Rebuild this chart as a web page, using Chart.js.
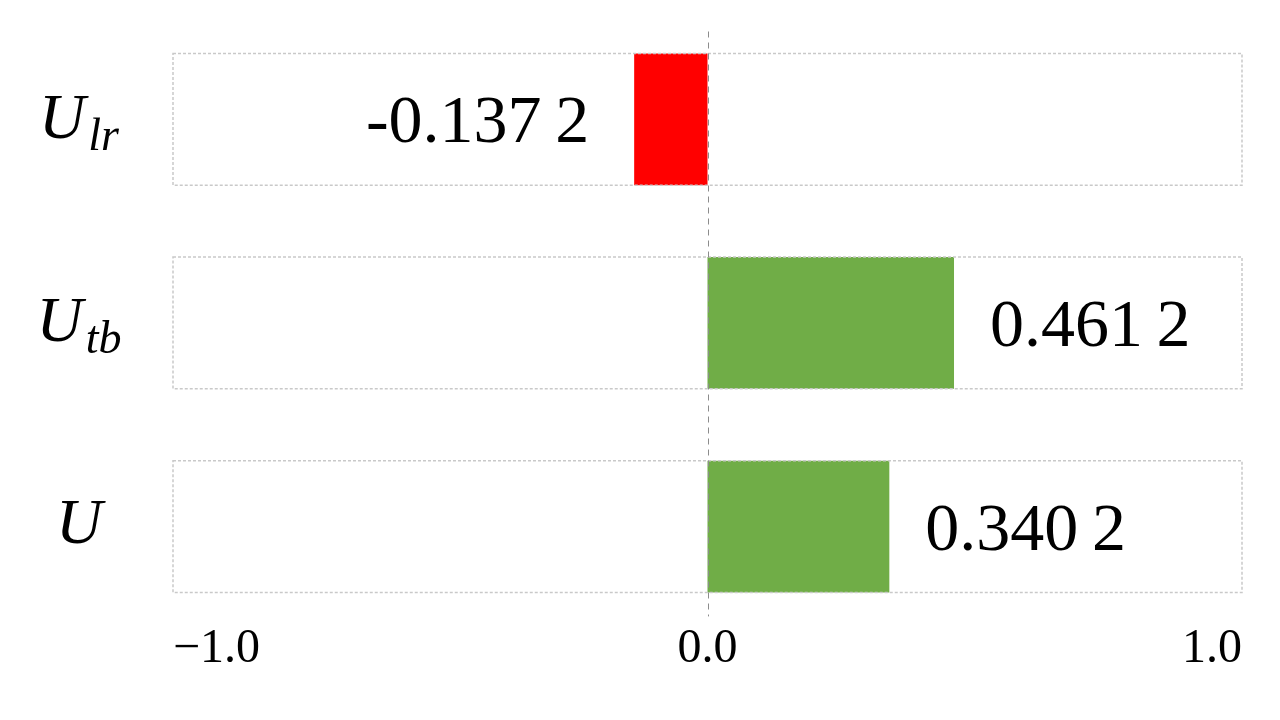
<!DOCTYPE html>
<html>
<head>
<meta charset="utf-8">
<script src="https://cdn.jsdelivr.net/npm/chart.js@4.4.1/dist/chart.umd.min.js"></script>
<style>
html,body{margin:0;padding:0;background:#fff;}
#wrap{width:1280px;height:720px;}
</style>
</head>
<body>
<div id="wrap"><canvas id="c" width="1280" height="720"></canvas></div>
<script>
// ---- data ----
const categories = ['Ulr', 'Utb', 'U'];
const mainLabels = ['U', 'U', 'U'];
const subLabels = ['lr', 'tb', ''];
const values = [-0.1372, 0.4612, 0.3402];
const valueTexts = ['-0.137\u20092', '0.461\u20092', '0.340\u20092'];
const xMin = -1, xMax = 1, xStep = 1;

const RED = '#FF0000', GREEN = '#70AD47';
const barColors = values.map(v => v < 0 ? RED : GREEN);

const SERIF = '"Liberation Serif", "Times New Roman", serif';

const decorPlugin = {
  id: 'decor',
  beforeDatasetsDraw(chart) {
    const ctx = chart.ctx;
    const xs = chart.scales.x;
    const meta = chart.getDatasetMeta(0);
    ctx.save();
    meta.data.forEach(el => {
      const top = el.y - el.height / 2, h = el.height;
      const l = xs.getPixelForValue(xMin), r = xs.getPixelForValue(xMax);
      ctx.fillStyle = '#ffffff';
      ctx.fillRect(l, top, r - l, h);
    });
    ctx.restore();
  },
  afterDatasetsDraw(chart) {
    const ctx = chart.ctx;
    const xs = chart.scales.x;
    const meta = chart.getDatasetMeta(0);
    const ca = chart.chartArea;
    ctx.save();
    // dotted boxes
    ctx.strokeStyle = '#c9c9c9';
    ctx.lineWidth = 1.5;
    ctx.setLineDash([3, 2]);
    meta.data.forEach(el => {
      const top = el.y - el.height / 2, h = el.height;
      const l = xs.getPixelForValue(xMin), r = xs.getPixelForValue(xMax);
      ctx.strokeRect(l, top, r - l, h);
    });
    // zero dashed line
    const x0 = Math.round(xs.getPixelForValue(0)) + 0.5;
    ctx.strokeStyle = '#8c8c8c';
    ctx.lineWidth = 1;
    ctx.setLineDash([6, 5]);
    ctx.beginPath();
    ctx.moveTo(x0, ca.top + 14);
    ctx.lineTo(x0, ca.bottom - 12);
    ctx.stroke();
    ctx.setLineDash([]);
    // value labels
    ctx.fillStyle = '#000';
    ctx.font = '68px ' + SERIF;
    ctx.textBaseline = 'alphabetic';
    meta.data.forEach((el, i) => {
      const v = values[i];
      const base = el.y + 23;
      if (v < 0) {
        ctx.textAlign = 'right';
        ctx.fillText(valueTexts[i], el.x - 45, base);
      } else {
        ctx.textAlign = 'left';
        ctx.fillText(valueTexts[i], el.x + 36, base);
      }
    });
    // category labels with subscripts
    const cx = 79;
    meta.data.forEach((el, i) => {
      ctx.font = 'italic 64px ' + SERIF;
      const wMain = ctx.measureText(mainLabels[i]).width;
      ctx.font = 'italic 46px ' + SERIF;
      const wSub = subLabels[i] ? ctx.measureText(subLabels[i]).width + 3 : 0;
      const left = cx - (wMain + wSub) / 2;
      ctx.textAlign = 'left';
      ctx.font = 'italic 64px ' + SERIF;
      ctx.fillText(mainLabels[i], left, el.y + (subLabels[i] ? 18.5 : 16));
      if (subLabels[i]) {
        ctx.font = 'italic 46px ' + SERIF;
        ctx.fillText(subLabels[i], left + wMain + 3, el.y + 30.5);
      }
    });
    ctx.restore();
  }
};

new Chart(document.getElementById('c'), {
  type: 'bar',
  data: {
    labels: categories,
    datasets: [{
      data: values,
      backgroundColor: barColors,
      borderWidth: 0,
      barPercentage: 0.647,
      categoryPercentage: 1.0
    }]
  },
  options: {
    indexAxis: 'y',
    responsive: false,
    devicePixelRatio: 1,
    animation: false,
    layout: { padding: { left: 173, right: 38, top: 17.5, bottom: 50 } },
    plugins: { legend: { display: false }, tooltip: { enabled: false } },
    scales: {
      y: { display: false },
      x: {
        min: xMin, max: xMax,
        grid: { display: false, drawTicks: false },
        border: { display: false },
        ticks: {
          stepSize: xStep,
          align: 'inner',
          padding: -8,
          color: '#000',
          font: { family: SERIF, size: 48 },
          callback: v => (v < 0 ? '\u2212' : '') + Math.abs(v).toFixed(1)
        }
      }
    }
  },
  plugins: [decorPlugin]
});
</script>
</body>
</html>
